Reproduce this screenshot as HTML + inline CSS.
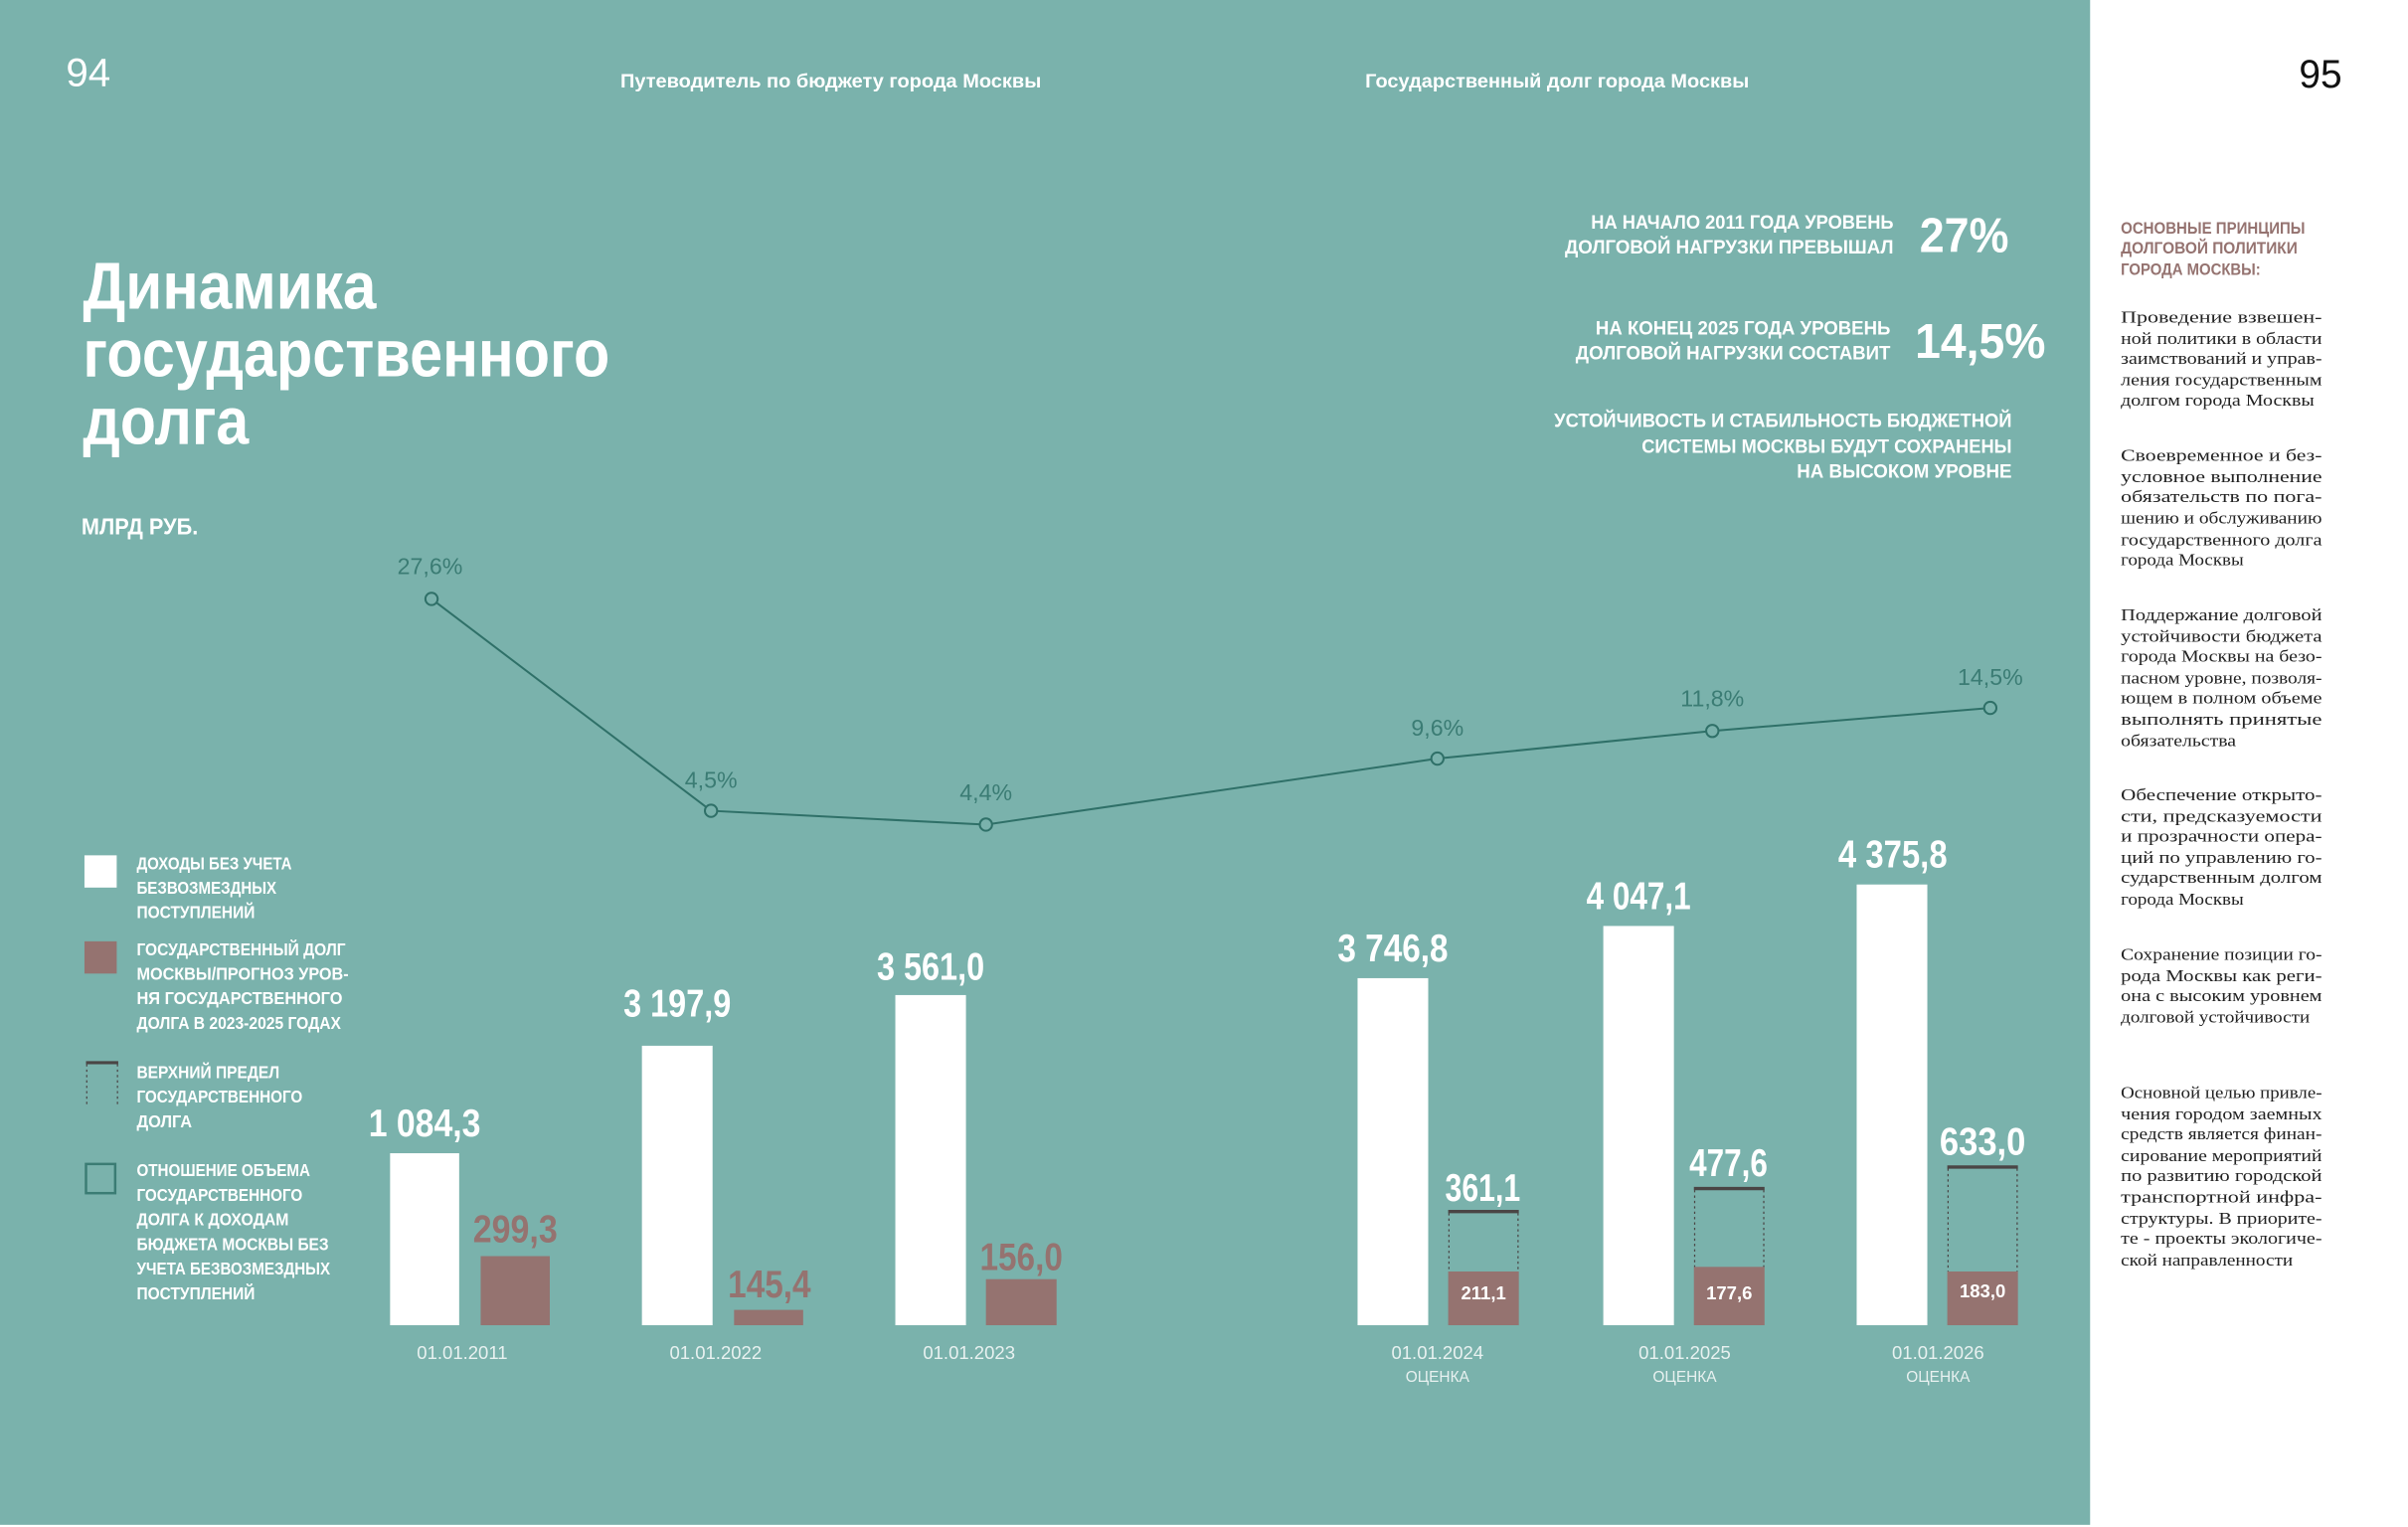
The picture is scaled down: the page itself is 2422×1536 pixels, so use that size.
<!DOCTYPE html>
<html><head><meta charset="utf-8"><style>
html,body{margin:0;padding:0;background:#fff;}
svg{display:block;}
.b{font-family:"Liberation Sans Narrow","Liberation Sans",sans-serif;font-weight:bold;}
.l{font-family:"Liberation Sans Narrow","Liberation Sans",sans-serif;}
.s{font-family:"Liberation Serif",serif;font-size:10.6px;fill:#222;}
</style></head><body>
<svg width="2422" height="1536" viewBox="0 0 1568 994.4" preserveAspectRatio="none" xmlns="http://www.w3.org/2000/svg">
<rect x="0" y="0" width="1568" height="994.4" fill="#fff"/>
<rect x="0" y="0" width="1361" height="993" fill="#7ab2ac"/>

<text class="l" x="43" y="56" font-size="26" fill="#fff" textLength="29" lengthAdjust="spacingAndGlyphs">94</text>
<text class="l" x="1497" y="57" font-size="26" fill="#111" textLength="28" lengthAdjust="spacingAndGlyphs">95</text>
<text class="b" x="404" y="57" font-size="12.5" fill="#fff" textLength="274" lengthAdjust="spacingAndGlyphs">Путеводитель по бюджету города Москвы</text>
<text class="b" x="889" y="57" font-size="12.5" fill="#fff" textLength="250" lengthAdjust="spacingAndGlyphs">Государственный долг города Москвы</text>

<text class="b" x="54" y="201" font-size="43" fill="#fff" textLength="191" lengthAdjust="spacingAndGlyphs">Динамика</text>
<text class="b" x="54" y="245" font-size="43" fill="#fff" textLength="343" lengthAdjust="spacingAndGlyphs">государственного</text>
<text class="b" x="54" y="289" font-size="43" fill="#fff" textLength="108" lengthAdjust="spacingAndGlyphs">долга</text>
<text class="b" x="53" y="348" font-size="15" fill="#fff" textLength="76" lengthAdjust="spacingAndGlyphs">МЛРД РУБ.</text>

<g class="b" fill="#fff" font-size="12.5" text-anchor="end">
<text x="1233" y="149" textLength="197" lengthAdjust="spacingAndGlyphs">НА НАЧАЛО 2011 ГОДА УРОВЕНЬ</text>
<text x="1233" y="165" textLength="214" lengthAdjust="spacingAndGlyphs">ДОЛГОВОЙ НАГРУЗКИ ПРЕВЫШАЛ</text>
<text x="1231" y="218" textLength="192" lengthAdjust="spacingAndGlyphs">НА КОНЕЦ 2025 ГОДА УРОВЕНЬ</text>
<text x="1231" y="234" textLength="205" lengthAdjust="spacingAndGlyphs">ДОЛГОВОЙ НАГРУЗКИ СОСТАВИТ</text>
<text x="1310" y="278" textLength="298" lengthAdjust="spacingAndGlyphs">УСТОЙЧИВОСТЬ И СТАБИЛЬНОСТЬ БЮДЖЕТНОЙ</text>
<text x="1310" y="295" textLength="241" lengthAdjust="spacingAndGlyphs">СИСТЕМЫ МОСКВЫ БУДУТ СОХРАНЕНЫ</text>
<text x="1310" y="311" textLength="140" lengthAdjust="spacingAndGlyphs">НА  ВЫСОКОМ УРОВНЕ</text>
</g>
<text class="b" x="1250" y="164" font-size="32" fill="#fff" textLength="58" lengthAdjust="spacingAndGlyphs">27%</text>
<text class="b" x="1247" y="233" font-size="32" fill="#fff" textLength="85" lengthAdjust="spacingAndGlyphs">14,5%</text>

<rect x="55" y="557" width="21" height="21" fill="#fff"/>
<rect x="55" y="613" width="21" height="21" fill="#957370"/>
<line x1="56" y1="692" x2="77" y2="692" stroke="#4a4545" stroke-width="2"/>
<line x1="56.5" y1="693" x2="56.5" y2="720" stroke="#4a4545" stroke-width="0.8" stroke-dasharray="1.5,2"/>
<line x1="76.5" y1="693" x2="76.5" y2="720" stroke="#4a4545" stroke-width="0.8" stroke-dasharray="1.5,2"/>
<rect x="56" y="758" width="19" height="19" fill="none" stroke="#3b7c74" stroke-width="1.6"/>
<g class="b" fill="#fff" font-size="11.5">
<text x="89" y="566" textLength="101" lengthAdjust="spacingAndGlyphs">ДОХОДЫ БЕЗ УЧЕТА</text>
<text x="89" y="582" textLength="91" lengthAdjust="spacingAndGlyphs">БЕЗВОЗМЕЗДНЫХ</text>
<text x="89" y="598" textLength="77" lengthAdjust="spacingAndGlyphs">ПОСТУПЛЕНИЙ</text>
<text x="89" y="622" textLength="136" lengthAdjust="spacingAndGlyphs">ГОСУДАРСТВЕННЫЙ ДОЛГ</text>
<text x="89" y="638" textLength="138" lengthAdjust="spacingAndGlyphs">МОСКВЫ/ПРОГНОЗ УРОВ-</text>
<text x="89" y="654" textLength="134" lengthAdjust="spacingAndGlyphs">НЯ ГОСУДАРСТВЕННОГО</text>
<text x="89" y="670" textLength="133" lengthAdjust="spacingAndGlyphs">ДОЛГА В 2023-2025 ГОДАХ</text>
<text x="89" y="702" textLength="93" lengthAdjust="spacingAndGlyphs">ВЕРХНИЙ ПРЕДЕЛ</text>
<text x="89" y="718" textLength="108" lengthAdjust="spacingAndGlyphs">ГОСУДАРСТВЕННОГО</text>
<text x="89" y="734" textLength="36" lengthAdjust="spacingAndGlyphs">ДОЛГА</text>
<text x="89" y="766" textLength="113" lengthAdjust="spacingAndGlyphs">ОТНОШЕНИЕ ОБЪЕМА</text>
<text x="89" y="782" textLength="108" lengthAdjust="spacingAndGlyphs">ГОСУДАРСТВЕННОГО</text>
<text x="89" y="798" textLength="99" lengthAdjust="spacingAndGlyphs">ДОЛГА К ДОХОДАМ</text>
<text x="89" y="814" textLength="125" lengthAdjust="spacingAndGlyphs">БЮДЖЕТА МОСКВЫ БЕЗ</text>
<text x="89" y="830" textLength="126" lengthAdjust="spacingAndGlyphs">УЧЕТА БЕЗВОЗМЕЗДНЫХ</text>
<text x="89" y="846" textLength="77" lengthAdjust="spacingAndGlyphs">ПОСТУПЛЕНИЙ</text>
</g>

<polyline points="281,390 463,528 642,537 936,494 1115,476 1296,461" fill="none" stroke="#2f7068" stroke-width="1.3"/>
<g fill="#7ab2ac" stroke="#2f7068" stroke-width="1.3">
<circle cx="281" cy="390" r="4"/><circle cx="463" cy="528" r="4"/><circle cx="642" cy="537" r="4"/>
<circle cx="936" cy="494" r="4"/><circle cx="1115" cy="476" r="4"/><circle cx="1296" cy="461" r="4"/>
</g>
<g class="l" fill="#3b7c74" font-size="15" text-anchor="middle">
<text x="280" y="374">27,6%</text><text x="463" y="513">4,5%</text><text x="642" y="521">4,4%</text>
<text x="936" y="479">9,6%</text><text x="1115" y="460">11,8%</text><text x="1296" y="446">14,5%</text>
</g>

<g fill="#fff">
<rect x="254" y="751" width="45" height="112"/>
<rect x="418" y="681" width="46" height="182"/>
<rect x="583" y="648" width="46" height="215"/>
<rect x="884" y="637" width="46" height="226"/>
<rect x="1044" y="603" width="46" height="260"/>
<rect x="1209" y="576" width="46" height="287"/>
</g>
<g fill="#957370">
<rect x="313" y="818" width="45" height="45"/>
<rect x="478" y="853" width="45" height="10"/>
<rect x="642" y="833" width="46" height="30"/>
<rect x="943" y="828" width="46" height="35"/>
<rect x="1103" y="825" width="46" height="38"/>
<rect x="1268" y="828" width="46" height="35"/>
</g>
<g stroke="#4a4545" stroke-width="0.8" stroke-dasharray="1.5,2">
<line x1="943.5" y1="790" x2="943.5" y2="828"/><line x1="988.5" y1="790" x2="988.5" y2="828"/>
<line x1="1103.5" y1="775" x2="1103.5" y2="825"/><line x1="1148.5" y1="775" x2="1148.5" y2="825"/>
<line x1="1268.5" y1="761" x2="1268.5" y2="828"/><line x1="1313.5" y1="761" x2="1313.5" y2="828"/>
</g>
<g stroke="#4a4545" stroke-width="2.2">
<line x1="943" y1="789" x2="989" y2="789"/>
<line x1="1103" y1="774" x2="1149" y2="774"/>
<line x1="1268" y1="760" x2="1314" y2="760"/>
</g>

<g class="b" font-size="25">
<text x="240" y="740" fill="#fff" textLength="73" lengthAdjust="spacingAndGlyphs">1 084,3</text>
<text x="308" y="809" fill="#957370" textLength="55" lengthAdjust="spacingAndGlyphs">299,3</text>
<text x="406" y="662" fill="#fff" textLength="70" lengthAdjust="spacingAndGlyphs">3 197,9</text>
<text x="474" y="845" fill="#957370" textLength="54" lengthAdjust="spacingAndGlyphs">145,4</text>
<text x="571" y="638" fill="#fff" textLength="70" lengthAdjust="spacingAndGlyphs">3 561,0</text>
<text x="638" y="827" fill="#957370" textLength="54" lengthAdjust="spacingAndGlyphs">156,0</text>
<text x="871" y="626" fill="#fff" textLength="72" lengthAdjust="spacingAndGlyphs">3 746,8</text>
<text x="941" y="782" fill="#fff" textLength="49" lengthAdjust="spacingAndGlyphs">361,1</text>
<text x="1033" y="592" fill="#fff" textLength="68" lengthAdjust="spacingAndGlyphs">4 047,1</text>
<text x="1100" y="766" fill="#fff" textLength="51" lengthAdjust="spacingAndGlyphs">477,6</text>
<text x="1197" y="565" fill="#fff" textLength="71" lengthAdjust="spacingAndGlyphs">4 375,8</text>
<text x="1263" y="752" fill="#fff" textLength="56" lengthAdjust="spacingAndGlyphs">633,0</text>
</g>
<g class="b" font-size="12" fill="#fff" text-anchor="middle">
<text x="966" y="846">211,1</text><text x="1126" y="846">177,6</text><text x="1291" y="845">183,0</text>
</g>
<g class="l" font-size="12" fill="#e8f1f0" text-anchor="middle">
<text x="301" y="885">01.01.2011</text><text x="466" y="885">01.01.2022</text><text x="631" y="885">01.01.2023</text>
<text x="936" y="885">01.01.2024</text><text x="1097" y="885">01.01.2025</text><text x="1262" y="885">01.01.2026</text>
<text x="936" y="900" font-size="10">ОЦЕНКА</text><text x="1097" y="900" font-size="10">ОЦЕНКА</text><text x="1262" y="900" font-size="10">ОЦЕНКА</text>
</g>

<g class="b" font-size="10.5" fill="#957370">
<text x="1381" y="152" textLength="120" lengthAdjust="spacingAndGlyphs">ОСНОВНЫЕ ПРИНЦИПЫ</text>
<text x="1381" y="165" textLength="115" lengthAdjust="spacingAndGlyphs">ДОЛГОВОЙ ПОЛИТИКИ</text>
<text x="1381" y="179" textLength="91" lengthAdjust="spacingAndGlyphs">ГОРОДА МОСКВЫ:</text>
</g>
<g class="s">
<text x="1381" y="210" textLength="131" lengthAdjust="spacingAndGlyphs">Проведение   взвешен-</text>
<text x="1381" y="224" textLength="131" lengthAdjust="spacingAndGlyphs">ной политики в области</text>
<text x="1381" y="237" textLength="131" lengthAdjust="spacingAndGlyphs">заимствований и управ-</text>
<text x="1381" y="251" textLength="131" lengthAdjust="spacingAndGlyphs">ления государственным</text>
<text x="1381" y="264" textLength="126" lengthAdjust="spacingAndGlyphs">долгом города Москвы</text>

<text x="1381" y="300" textLength="131" lengthAdjust="spacingAndGlyphs">Своевременное  и  без-</text>
<text x="1381" y="314" textLength="131" lengthAdjust="spacingAndGlyphs">условное    выполнение</text>
<text x="1381" y="327" textLength="131" lengthAdjust="spacingAndGlyphs">обязательств  по  пога-</text>
<text x="1381" y="341" textLength="131" lengthAdjust="spacingAndGlyphs">шению и обслуживанию</text>
<text x="1381" y="355" textLength="131" lengthAdjust="spacingAndGlyphs">государственного долга</text>
<text x="1381" y="368" textLength="80" lengthAdjust="spacingAndGlyphs">города Москвы</text>

<text x="1381" y="404" textLength="131" lengthAdjust="spacingAndGlyphs">Поддержание   долговой</text>
<text x="1381" y="418" textLength="131" lengthAdjust="spacingAndGlyphs">устойчивости   бюджета</text>
<text x="1381" y="431" textLength="131" lengthAdjust="spacingAndGlyphs">города Москвы на безо-</text>
<text x="1381" y="445" textLength="131" lengthAdjust="spacingAndGlyphs">пасном уровне, позволя-</text>
<text x="1381" y="458" textLength="131" lengthAdjust="spacingAndGlyphs">ющем в полном объеме</text>
<text x="1381" y="472" textLength="131" lengthAdjust="spacingAndGlyphs">выполнять       принятые</text>
<text x="1381" y="486" textLength="75" lengthAdjust="spacingAndGlyphs">обязательства</text>

<text x="1381" y="521" textLength="131" lengthAdjust="spacingAndGlyphs">Обеспечение    открыто-</text>
<text x="1381" y="535" textLength="131" lengthAdjust="spacingAndGlyphs">сти,      предсказуемости</text>
<text x="1381" y="548" textLength="131" lengthAdjust="spacingAndGlyphs">и прозрачности опера-</text>
<text x="1381" y="562" textLength="131" lengthAdjust="spacingAndGlyphs">ций по управлению го-</text>
<text x="1381" y="575" textLength="131" lengthAdjust="spacingAndGlyphs">сударственным    долгом</text>
<text x="1381" y="589" textLength="80" lengthAdjust="spacingAndGlyphs">города Москвы</text>

<text x="1381" y="625" textLength="131" lengthAdjust="spacingAndGlyphs">Сохранение позиции го-</text>
<text x="1381" y="639" textLength="131" lengthAdjust="spacingAndGlyphs">рода  Москвы  как  реги-</text>
<text x="1381" y="652" textLength="131" lengthAdjust="spacingAndGlyphs">она с высоким уровнем</text>
<text x="1381" y="666" textLength="123" lengthAdjust="spacingAndGlyphs">долговой устойчивости</text>

<text x="1381" y="715" textLength="131" lengthAdjust="spacingAndGlyphs">Основной целью привле-</text>
<text x="1381" y="729" textLength="131" lengthAdjust="spacingAndGlyphs">чения городом заемных</text>
<text x="1381" y="742" textLength="131" lengthAdjust="spacingAndGlyphs">средств является финан-</text>
<text x="1381" y="756" textLength="131" lengthAdjust="spacingAndGlyphs">сирование мероприятий</text>
<text x="1381" y="769" textLength="131" lengthAdjust="spacingAndGlyphs">по развитию городской</text>
<text x="1381" y="783" textLength="131" lengthAdjust="spacingAndGlyphs">транспортной     инфра-</text>
<text x="1381" y="797" textLength="131" lengthAdjust="spacingAndGlyphs">структуры. В приорите-</text>
<text x="1381" y="810" textLength="131" lengthAdjust="spacingAndGlyphs">те - проекты экологиче-</text>
<text x="1381" y="824" textLength="112" lengthAdjust="spacingAndGlyphs">ской направленности</text>
</g>
</svg>
</body></html>
